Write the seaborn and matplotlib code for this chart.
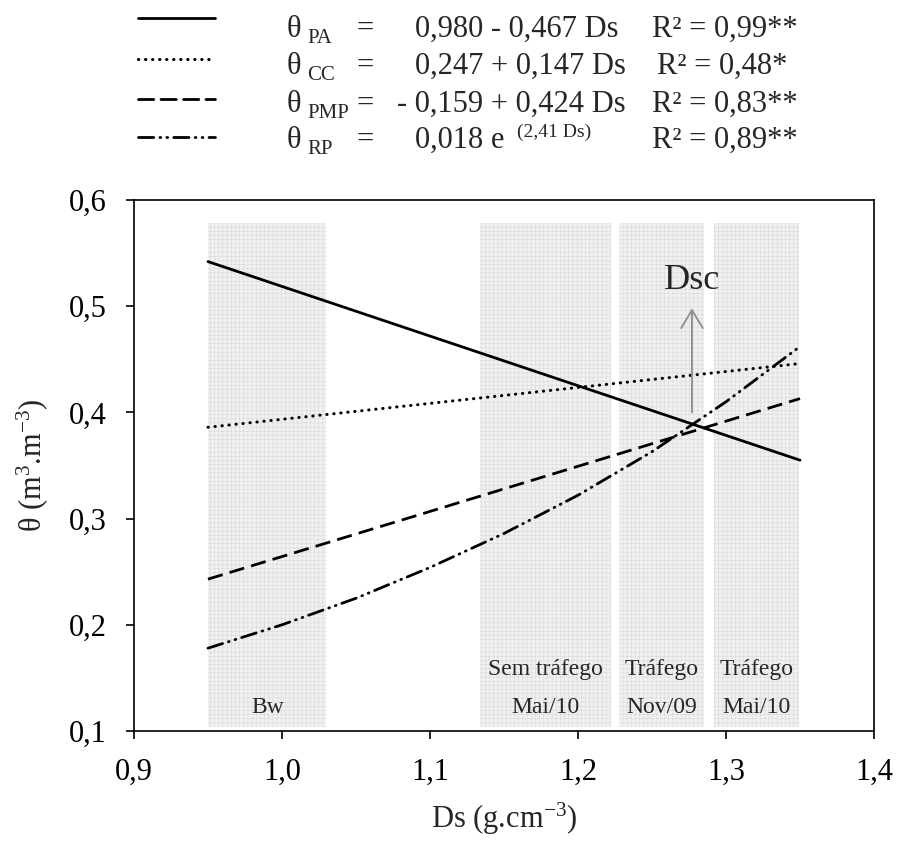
import matplotlib
matplotlib.use("Agg")
import matplotlib.pyplot as plt
import seaborn as sns
import pandas as pd

# --- data -------------------------------------------------------------
ds_linear = [0.95, 1.35]
theta_pa = [0.542, 0.355]
theta_cc = [0.386, 0.446]
theta_pmp = [0.243, 0.413]

ds_rp = [0.95, 1.00, 1.05, 1.10, 1.15, 1.20, 1.25, 1.30, 1.35]
theta_rp = [0.178, 0.200, 0.225, 0.254, 0.286, 0.322, 0.363, 0.410, 0.462]

band_left = [0.95, 1.134, 1.228, 1.292]
band_right = [1.03, 1.222, 1.285, 1.349]
band_top_label = ["", "Sem tráfego", "Tráfego", "Tráfego"]
band_bottom_label = ["Bw", "Mai/10", "Nov/09", "Mai/10"]

x_ticks = [0.9, 1.0, 1.1, 1.2, 1.3, 1.4]
x_tick_labels = ["0,9", "1,0", "1,1", "1,2", "1,3", "1,4"]
y_ticks = [0.1, 0.2, 0.3, 0.4, 0.5, 0.6]
y_tick_labels = ["0,1", "0,2", "0,3", "0,4", "0,5", "0,6"]

dsc_x = 1.277
dsc_arrow = [0.400, 0.498]

eq_symbol = ["PA", "CC", "PMP", "RP"]
eq_body = ["0,980 - 0,467 Ds", "0,247 + 0,147 Ds", "- 0,159 + 0,424 Ds", "0,018 e"]
eq_r2 = ["R² = 0,99**", "R² = 0,48*", "R² = 0,83**", "R² = 0,89**"]

# --- style ------------------------------------------------------------
sns.set_theme(style="ticks")
plt.rcParams["font.family"] = ["Liberation Serif", "DejaVu Serif"]
plt.rcParams["mathtext.fontset"] = "custom"
plt.rcParams["mathtext.rm"] = "Liberation Serif"
plt.rcParams["mathtext.it"] = "Liberation Serif:italic"
plt.rcParams["hatch.linewidth"] = 0.4
plt.rcParams["hatch.color"] = "#d6d6d6"

W, H = 898, 851
fig = plt.figure(figsize=(W / 100, H / 100), dpi=100)
ax = fig.add_axes([134 / W, 1 - 731 / H, (874 - 134) / W, (731 - 200) / H])

ls_pa = "-"
ls_cc = (0, (0.1, 2.2))
ls_pmp = (0, (5.5, 2.6))
ls_rp = (0, (5.5, 2.2, 0.3, 2.2, 0.3, 2.2))
lw_pa, lw_cc, lw_pmp, lw_rp = 2.0, 2.2, 2.0, 2.0

# shaded bands
for l, r, t1, t2 in zip(band_left, band_right, band_top_label, band_bottom_label):
    ax.fill_between([l, r], 0.104, 0.578, facecolor="#f1f1f1", edgecolor="#d9d9d9",
                    hatch="++++", linewidth=0, zorder=0)
    xc = (l + r) / 2
    if t1:
        ax.text(xc, 0.153, t1, ha="center", va="baseline", fontsize=17)
    ax.text(xc, 0.117, t2, ha="center", va="baseline", fontsize=17)

df_lin = pd.DataFrame({"Ds": ds_linear, "PA": theta_pa, "CC": theta_cc, "PMP": theta_pmp})
df_rp = pd.DataFrame({"Ds": ds_rp, "RP": theta_rp})

sns.lineplot(data=df_lin, x="Ds", y="PA", ax=ax, color="black", lw=lw_pa, linestyle=ls_pa)
l_cc = sns.lineplot(data=df_lin, x="Ds", y="CC", ax=ax, color="black", lw=lw_cc,
                    linestyle=ls_cc).lines[-1]
l_cc.set_dash_capstyle("round")
sns.lineplot(data=df_lin, x="Ds", y="PMP", ax=ax, color="black", lw=lw_pmp, linestyle=ls_pmp)
l_rp = sns.lineplot(data=df_rp, x="Ds", y="RP", ax=ax, color="black", lw=lw_rp,
                    linestyle=ls_rp).lines[-1]
l_rp.set_dash_capstyle("round")

# Dsc arrow
ax.annotate("", xy=(dsc_x, dsc_arrow[1]), xytext=(dsc_x, dsc_arrow[0]),
            arrowprops=dict(arrowstyle="->,head_length=0.5,head_width=0.3",
                            color="#8c8c8c", lw=1.3, mutation_scale=26,
                            shrinkA=0, shrinkB=0))
ax.text(dsc_x, 0.516, "Dsc", ha="center", va="baseline", fontsize=26)

ax.set_xlim(0.9, 1.4)
ax.set_ylim(0.1, 0.6)
ax.set_xticks(x_ticks)
ax.set_xticklabels(x_tick_labels)
ax.set_yticks(y_ticks)
ax.set_yticklabels(y_tick_labels)
ax.tick_params(axis="both", direction="out", length=5.5, width=1.2, labelsize=22,
               color="black", labelcolor="black")
ax.tick_params(axis="x", pad=14)
ax.tick_params(axis="y", pad=14)
for s in ax.spines.values():
    s.set_visible(True)
    s.set_color("black")
    s.set_linewidth(1.2)
ax.set_xlabel("Ds (g.cm$^{-3}$)", fontsize=22, labelpad=10)
ax.set_ylabel("θ (m$^{3}$.m$^{-3}$)", fontsize=22, labelpad=14)

# --- equation key above the axes (pixel layout) -----------------------
kax = fig.add_axes([0, 0, 1, 1], facecolor="none")
kax.set_xlim(0, W)
kax.set_ylim(H, 0)
kax.axis("off")

row_base = [37, 74, 112, 148]
row_line = [18, 59, 99, 137]
key_styles = [(ls_pa, lw_pa), (ls_cc, lw_cc), (ls_pmp, lw_pmp), (ls_rp, lw_rp)]
body_x = [415, 415, 397, 415]
r2_x = [652, 657, 652, 652]
for i in range(4):
    ls, lw = key_styles[i]
    ln, = kax.plot([138, 215], [row_line[i], row_line[i]], color="black", lw=lw, linestyle=ls)
    ln.set_dash_capstyle("round")
    kax.text(287, row_base[i], "θ", fontsize=22, va="baseline", ha="left")
    kax.text(307, row_base[i] + 6, eq_symbol[i], fontsize=15, va="baseline", ha="left")
    kax.text(357, row_base[i], "=", fontsize=22, va="baseline", ha="left")
    kax.text(body_x[i], row_base[i], eq_body[i], fontsize=22, va="baseline", ha="left")
    kax.text(r2_x[i], row_base[i], eq_r2[i], fontsize=22, va="baseline", ha="left")
kax.text(517, row_base[3] - 11, "(2,41 Ds)", fontsize=14, va="baseline", ha="left")

fig.savefig("out.png", dpi=100)
